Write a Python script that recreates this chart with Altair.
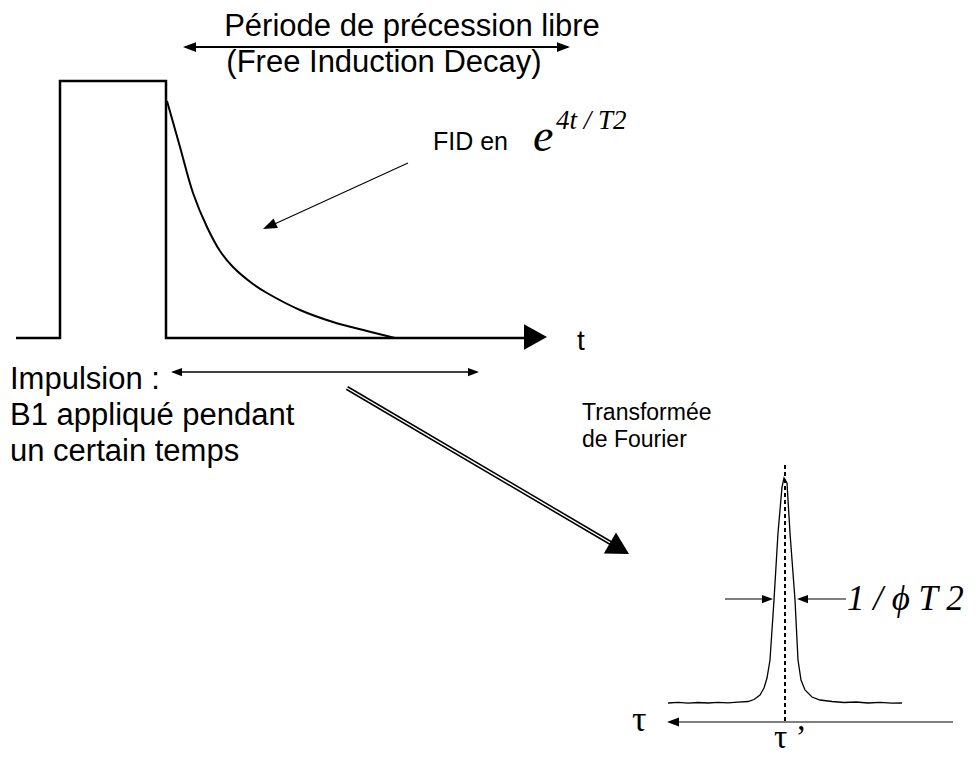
import altair as alt
import pandas as pd

# ---------------- data (picture pixel coordinates) ----------------
pulse_x = [16, 60, 60, 166, 166, 525]
pulse_y = [338, 338, 81, 81, 338, 338]

fid_x = [167, 180, 193, 207, 220, 233, 253, 267, 300, 333, 367, 395]
fid_y = [101, 147, 193, 227, 251, 267, 284, 293, 310, 322, 331, 338]

peak_x = [668, 678, 688, 698, 708, 718, 728, 738, 748, 754, 760, 764, 767, 770, 774, 778, 782, 784,
          787, 790, 795, 798, 801, 805, 812, 820, 832, 844, 856, 868, 880, 892, 902]
peak_y = [703, 702.4, 703.1, 702.5, 703, 702.3, 702.8, 702.1, 701.5, 699.5, 695, 688, 678, 660, 600, 533, 487, 478,
          483, 533, 600, 660, 680, 690, 697, 700, 701.5, 702.5, 702, 703, 702.4, 703.1, 703]

# arrow shafts: x1, y1, x2, y2, width, colour
seg_x1 = [185, 173, 408, 725, 846, 953]
seg_y1 = [47, 372, 163, 599, 599, 722]
seg_x2 = [568, 477, 268, 770, 800, 670]
seg_y2 = [47, 372, 227, 599, 599, 722]
seg_w = [2.0, 1.5, 1.2, 1.2, 1.2, 1.5]
seg_c = ["black", "black", "black", "black", "black", "#555555"]

# narrow arrow heads: tip x, tip y, angle, length
head_x = [183, 570, 171, 479, 263, 773, 797, 667]
head_y = [47, 47, 372, 372, 229, 599, 599, 722]
head_a = [180, 0, 180, 0, 155.5, 0, 180, 180]
head_l = [13, 13, 11, 11, 14, 11, 11, 12]

# wide arrow heads (t axis, Fourier arrow)
bighead_x = [547, 629]
bighead_y = [337, 554]
bighead_a = [0, 30]
bighead_l = [23, 22]

# Fourier double-line arrow shaft
ft_x1, ft_y1, ft_x2, ft_y2 = [347], [388], [614], [545]

# dashed line at the peak
dash_x, dash_y1, dash_y2 = [785], [465], [722]

# texts
sans_c_text = ["Période de précession libre", "(Free Induction Decay)"]
sans_c_x = [412, 384]
sans_c_y = [36, 72]
sans_c_s = [31, 31]

sans_l_text = ["FID en", "t", "Impulsion :", "B1 appliqué pendant", "un certain temps",
               "Transformée", "de Fourier"]
sans_l_x = [433, 577, 10, 10, 10, 582, 582]
sans_l_y = [150, 350, 389, 425, 461, 420, 447]
sans_l_s = [25, 28, 31, 31, 31, 23, 23]

serif_i_text = ["e", "4t  /  T2", "1 / ϕ T 2"]
serif_i_x = [533, 556, 847]
serif_i_y = [151, 129, 610]
serif_i_s = [46, 27, 35]

serif_text = ["τ", "τ  ’"]
serif_x = [632, 774]
serif_y = [731, 748]
serif_s = [36, 33]

# ---------------- chart ----------------
xs = alt.Scale(domain=[8, 972], nice=False, zero=False)
ys = alt.Scale(domain=[8, 756], nice=False, zero=False, reverse=True)


def X(f="x"):
    return alt.X(f"{f}:Q", scale=xs, axis=None)


def Y(f="y"):
    return alt.Y(f"{f}:Q", scale=ys, axis=None)


def line_df(xv, yv):
    return pd.DataFrame({"x": xv, "y": yv, "i": list(range(len(xv)))})


pulse = alt.Chart(line_df(pulse_x, pulse_y)).mark_line(
    color="black", strokeWidth=2.5, strokeJoin="miter"
).encode(x=X(), y=Y(), order="i:Q")

fid = alt.Chart(line_df(fid_x, fid_y)).mark_line(
    color="black", strokeWidth=2, interpolate="catmull-rom"
).encode(x=X(), y=Y(), order="i:Q")

peak = alt.Chart(line_df(peak_x, peak_y)).mark_line(
    color="black", strokeWidth=1.3, interpolate="linear"
).encode(x=X(), y=Y(), order="i:Q")

seg_df = pd.DataFrame({"x": seg_x1, "y": seg_y1, "x2": seg_x2, "y2": seg_y2,
                       "w": seg_w, "c": seg_c})
segs = alt.Chart(seg_df).mark_rule().encode(
    x=X(), y=Y(), x2="x2:Q", y2="y2:Q",
    strokeWidth=alt.StrokeWidth("w:Q", scale=None),
    color=alt.Color("c:N", scale=None),
)

ft_df = pd.DataFrame({"x": ft_x1, "y": ft_y1, "x2": ft_x2, "y2": ft_y2})
ft_black = alt.Chart(ft_df).mark_rule(color="black", strokeWidth=4.5).encode(
    x=X(), y=Y(), x2="x2:Q", y2="y2:Q")
ft_white = alt.Chart(ft_df).mark_rule(color="white", strokeWidth=1.4).encode(
    x=X(), y=Y(), x2="x2:Q", y2="y2:Q")

dash_df = pd.DataFrame({"x": dash_x, "y": dash_y1, "y2": dash_y2})
dash = alt.Chart(dash_df).mark_rule(color="black", strokeWidth=2, strokeDash=[4, 3]).encode(
    x=X(), y=Y(), y2="y2:Q")

head_df = pd.DataFrame({"x": head_x, "y": head_y, "a": head_a,
                        "s": [l * l for l in head_l]})
heads = alt.Chart(head_df).mark_point(
    shape="M0,0L-2,-0.75L-2,0.75Z", filled=True, color="black", opacity=1, strokeWidth=0
).encode(x=X(), y=Y(), angle=alt.Angle("a:Q", scale=None),
         size=alt.Size("s:Q", scale=None))

bighead_df = pd.DataFrame({"x": bighead_x, "y": bighead_y, "a": bighead_a,
                           "s": [l * l for l in bighead_l]})
bigheads = alt.Chart(bighead_df).mark_point(
    shape="M0,0L-2,-1.1L-2,1.1Z", filled=True, color="black", opacity=1, strokeWidth=0
).encode(x=X(), y=Y(), angle=alt.Angle("a:Q", scale=None),
         size=alt.Size("s:Q", scale=None))


def text_layer(texts, xv, yv, sv, **kw):
    df = pd.DataFrame({"t": texts, "x": xv, "y": yv, "s": sv})
    return alt.Chart(df).mark_text(baseline="alphabetic", color="black", **kw).encode(
        x=X(), y=Y(), text="t:N", size=alt.Size("s:Q", scale=None))


SANS = "Liberation Sans, Arial, sans-serif"
SERIF = "Liberation Serif, DejaVu Serif, Times New Roman, serif"

t_sc = text_layer(sans_c_text, sans_c_x, sans_c_y, sans_c_s, font=SANS, align="center")
t_sl = text_layer(sans_l_text, sans_l_x, sans_l_y, sans_l_s, font=SANS, align="left")
t_si = text_layer(serif_i_text, serif_i_x, serif_i_y, serif_i_s, font=SERIF,
                  align="left", fontStyle="italic")
t_s = text_layer(serif_text, serif_x, serif_y, serif_s, font=SERIF, align="left")

chart = alt.layer(
    pulse, fid, peak, dash, ft_black, ft_white, segs, heads, bigheads,
    t_sc, t_sl, t_si, t_s
).properties(
    width=964, height=748, padding=0, autosize="none", background="white"
).configure_view(stroke=None)

chart.save("out.html", embed_options={"renderer": "svg", "actions": False})
